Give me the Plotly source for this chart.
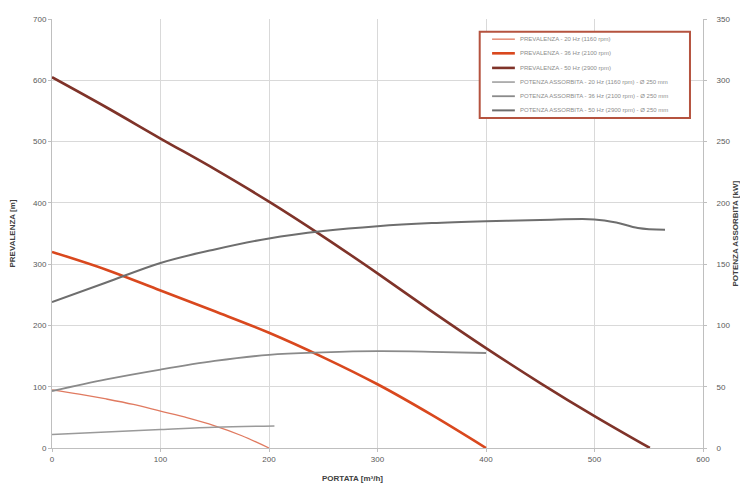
import plotly.graph_objects as go

# Flow (m3/h) and head (m) - left axis
q_h20 = [0, 25, 50, 75, 100, 125, 150, 175, 200]
h_20 = [95, 88, 80, 71, 60, 49, 36, 20, 0]
q_h36 = [0, 50, 100, 150, 200, 250, 300, 350, 400]
h_36 = [320, 291, 257, 223, 188, 148, 104, 54, 0]
q_h50 = [0, 50, 100, 150, 200, 250, 300, 350, 400, 450, 500, 551]
h_50 = [605, 556, 505, 455, 402, 345, 285, 223, 163, 106, 52, 0]

# Absorbed power (kW) - right axis
q_p20 = [0, 50, 100, 150, 205]
p_20 = [11, 13, 15, 17, 18]
q_p36 = [0, 50, 100, 150, 200, 250, 300, 350, 400]
p_36 = [46.5, 56, 64, 71, 76, 78, 79, 78.5, 77.5]
q_p50 = [0, 50, 100, 150, 200, 250, 300, 350, 400, 450, 500, 520, 540, 565]
p_50 = [119, 135, 151, 162, 171, 177, 181, 183.5, 185, 186, 186.5, 184, 179.5, 178]

names = [
    "PREVALENZA - 20 Hz (1160 rpm)",
    "PREVALENZA - 36 Hz (2100 rpm)",
    "PREVALENZA - 50 Hz (2900 rpm)",
    "POTENZA ASSORBITA - 20 Hz (1160 rpm) - Ø 250 mm",
    "POTENZA ASSORBITA - 36 Hz (2100 rpm) - Ø 250 mm",
    "POTENZA ASSORBITA - 50 Hz (2900 rpm) - Ø 250 mm",
]
colors = ["#e07a60", "#d9481e", "#7f3329", "#9a9a9a", "#8a8a8a", "#6e6e6e"]
widths = [1.3, 2.6, 2.6, 1.5, 1.8, 2.0]

series = [(q_h20, h_20, "y"), (q_h36, h_36, "y"), (q_h50, h_50, "y"),
          (q_p20, p_20, "y2"), (q_p36, p_36, "y2"), (q_p50, p_50, "y2")]

fig = go.Figure()
for (xs, ys, ax), nm, c, w in zip(series, names, colors, widths):
    fig.add_trace(go.Scatter(x=xs, y=ys, mode="lines", name=nm, yaxis=ax,
                             line=dict(color=c, width=w, shape="spline")))

# Manual compact legend (paper coordinates)
fig.add_shape(type="rect", xref="paper", yref="paper", x0=0.657, x1=0.980,
              y0=0.769, y1=0.970, line=dict(color="#b5533f", width=2),
              fillcolor="white", layer="above")
leg_y = [0.953, 0.920, 0.886, 0.853, 0.820, 0.787]
for yy, nm, c, w in zip(leg_y, names, colors, widths):
    fig.add_shape(type="line", xref="paper", yref="paper", x0=0.676, x1=0.711,
                  y0=yy, y1=yy, line=dict(color=c, width=w), layer="above")
    fig.add_annotation(xref="paper", yref="paper", x=0.716, y=yy, text=nm,
                       showarrow=False, xanchor="left", yanchor="middle",
                       font=dict(family="Liberation Sans", size=6, color="#8c8c8c"))

tickfont = dict(family="Liberation Sans", size=8, color="#595959")
titlefont = dict(family="Liberation Sans", size=8, color="#404040")

# x-axis title, slightly left of centre as in the original
fig.add_annotation(xref="paper", yref="paper", x=0.461, y=0, yanchor="top",
                   yshift=-24, showarrow=False, text="<b>PORTATA [m³/h]</b>",
                   font=titlefont)
# right axis title
fig.add_annotation(xref="paper", yref="paper", x=1, y=0.5, xanchor="center",
                   yanchor="middle", xshift=32, showarrow=False, textangle=-90,
                   text="<b>POTENZA ASSORBITA [kW]</b>", font=titlefont)

fig.update_layout(
    width=740, height=481,
    margin=dict(l=44, r=45, t=11, b=41),
    paper_bgcolor="white", plot_bgcolor="white",
    showlegend=False,
    xaxis=dict(range=[0, 600], dtick=100, showgrid=True, gridcolor="#d9d9d9",
               showline=True, linecolor="#bfbfbf", ticks="outside", ticklen=3,
               tickcolor="#bfbfbf", tickfont=tickfont, zeroline=False, automargin=False),
    yaxis=dict(range=[0, 700], dtick=100, showgrid=True, gridcolor="#d9d9d9",
               showline=True, linecolor="#bfbfbf", ticks="outside", ticklen=3,
               tickcolor="#bfbfbf", tickfont=tickfont, zeroline=False, automargin=False,
               title=dict(text="<b>PREVALENZA [m]</b>", font=titlefont, standoff=17)),
    yaxis2=dict(range=[0, 350], dtick=50, overlaying="y", side="right",
                showgrid=False, showline=True, linecolor="#bfbfbf", ticks="outside",
                ticklen=3, tickcolor="#bfbfbf", tickfont=tickfont, zeroline=False,
                automargin=False, ticklabelstandoff=8),
)

fig.write_html("out.html")
